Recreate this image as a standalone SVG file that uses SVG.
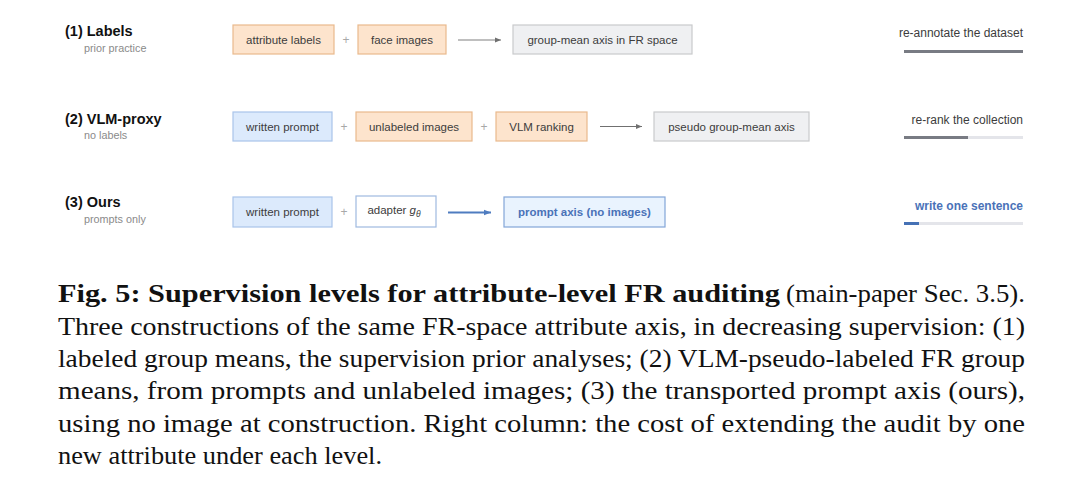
<svg xmlns="http://www.w3.org/2000/svg" width="1069" height="487" viewBox="0 0 1069 487">
<defs>
<style>
.lbl{font-family:"Liberation Sans",Arial,sans-serif;font-size:14.5px;font-weight:bold;fill:#111}
.sub{font-family:"Liberation Sans",Arial,sans-serif;font-size:10.8px;fill:#8a8a8a}
.bt{font-family:"Liberation Sans",Arial,sans-serif;font-size:11.5px;fill:#3c3c3c;text-anchor:middle}
.org{fill:#fde4cd;stroke:#e9b98d;stroke-width:1.2}
.blu{fill:#dceafc;stroke:#a9c4ea;stroke-width:1.2}
.gry{fill:#eff0f2;stroke:#c9cacc;stroke-width:1.2}
.wht{fill:#ffffff;stroke:#9fb9df;stroke-width:1.2}
.out{fill:#e9f3fe;stroke:#83a6d8;stroke-width:1.2}
.plus{font-family:"Liberation Sans",Arial,sans-serif;font-size:12px;fill:#a8a8a8;text-anchor:middle}
.rt{font-family:"Liberation Sans",Arial,sans-serif;font-size:12px;fill:#3c3c3c;text-anchor:end}
.cap{font-family:"Liberation Serif","Times New Roman",serif;font-size:25px;fill:#111}
</style>
<marker id="ag" viewBox="0 0 10 10" refX="10" refY="5" markerWidth="6" markerHeight="6" markerUnits="userSpaceOnUse" orient="auto"><path d="M0,1 L10,5 L0,9 z" fill="#707070"/></marker>
<marker id="ab" viewBox="0 0 10 10" refX="10" refY="5" markerWidth="7" markerHeight="7" markerUnits="userSpaceOnUse" orient="auto"><path d="M0,1 L10,5 L0,9 z" fill="#4f7cc0"/></marker>
</defs>
<rect width="1069" height="487" fill="#ffffff"/>

<g id="row1-label">
<text class="lbl" x="65" y="36">(1) Labels</text>
<text class="sub" x="84" y="52">prior practice</text>
</g>
<g id="row2-label">
<text class="lbl" x="65" y="124">(2) VLM-proxy</text>
<text class="sub" x="84" y="139">no labels</text>
</g>
<g id="row3-label">
<text class="lbl" x="65" y="207">(3) Ours</text>
<text class="sub" x="84" y="223">prompts only</text>
</g>

<g id="attribute-labels"><rect class="org" x="233" y="25" width="101" height="29"/><text class="bt" x="283.5" y="43.5">attribute labels</text></g>
<text class="plus" x="346" y="44">+</text>
<g id="face-images"><rect class="org" x="358" y="25" width="88" height="29"/><text class="bt" x="402" y="43.5">face images</text></g>
<g id="group-mean-axis"><rect class="gry" x="513" y="25" width="179" height="29"/><text class="bt" x="602.5" y="43.5">group-mean axis in FR space</text></g>

<g id="written-prompt-2"><rect class="blu" x="233" y="112" width="99" height="29"/><text class="bt" x="282.5" y="130.5">written prompt</text></g>
<text class="plus" x="344" y="131">+</text>
<g id="unlabeled-images"><rect class="org" x="356" y="112" width="116" height="29"/><text class="bt" x="414" y="130.5">unlabeled images</text></g>
<text class="plus" x="484" y="131">+</text>
<g id="vlm-ranking"><rect class="org" x="496" y="112" width="91" height="29"/><text class="bt" x="541.5" y="130.5">VLM ranking</text></g>
<g id="pseudo-axis"><rect class="gry" x="654" y="112" width="155" height="29"/><text class="bt" x="731.5" y="130.5">pseudo group-mean axis</text></g>

<g id="written-prompt-3"><rect class="blu" x="233" y="197" width="99" height="30"/><text class="bt" x="282.5" y="216">written prompt</text></g>
<text class="plus" x="344" y="216">+</text>
<g id="adapter"><rect class="wht" x="356" y="196" width="80" height="31"/><text class="bt" x="394" y="214">adapter <tspan font-style="italic">g</tspan><tspan font-style="italic" font-size="8.5px" dy="2.5">θ</tspan></text></g>
<g id="prompt-axis"><rect class="out" x="504" y="197" width="161" height="30"/><text class="bt" x="584.5" y="216" font-weight="bold" style="fill:#4a72b8">prompt axis (no images)</text></g>

<g id="connectors" fill="none">
<line x1="458" y1="40" x2="501" y2="40" stroke="#808080" stroke-width="1.2" marker-end="url(#ag)"/>
<line x1="600" y1="126.5" x2="642" y2="126.5" stroke="#707070" stroke-width="1.2" marker-end="url(#ag)"/>
<line x1="448" y1="212.5" x2="491" y2="212.5" stroke="#4f7cc0" stroke-width="1.8" marker-end="url(#ab)"/>
</g>

<g id="cost-1">
<text class="rt" x="1023" y="37">re-annotate the dataset</text>
<rect x="904" y="50" width="119" height="3" fill="#787b83"/>
</g>
<g id="cost-2">
<text class="rt" x="1023" y="124">re-rank the collection</text>
<rect x="904" y="136" width="119" height="3" fill="#e4e5ea"/>
<rect x="904" y="136" width="64" height="3" fill="#787b83"/>
</g>
<g id="cost-3">
<text class="rt" x="1023" y="210" font-weight="bold" style="fill:#4a72b8">write one sentence</text>
<rect x="904" y="222" width="119" height="3" fill="#e4e5ea"/>
<rect x="904" y="222" width="15" height="3" fill="#4571b5"/>
</g>

<g id="caption">
<text class="cap" x="58" y="302" font-weight="bold" textLength="722" lengthAdjust="spacingAndGlyphs">Fig. 5: Supervision levels for attribute-level FR auditing</text>
<text class="cap" x="786" y="302" textLength="239" lengthAdjust="spacingAndGlyphs">(main-paper Sec. 3.5).</text>
<text class="cap" x="58" y="335" textLength="967" lengthAdjust="spacingAndGlyphs">Three constructions of the same FR-space attribute axis, in decreasing supervision: (1)</text>
<text class="cap" x="58" y="367" textLength="967" lengthAdjust="spacingAndGlyphs">labeled group means, the supervision prior analyses; (2) VLM-pseudo-labeled FR group</text>
<text class="cap" x="58" y="399" textLength="967" lengthAdjust="spacingAndGlyphs">means, from prompts and unlabeled images; (3) the transported prompt axis (ours),</text>
<text class="cap" x="58" y="432" textLength="967" lengthAdjust="spacingAndGlyphs">using no image at construction. Right column: the cost of extending the audit by one</text>
<text class="cap" x="58" y="464" textLength="324" lengthAdjust="spacingAndGlyphs">new attribute under each level.</text>
</g>
</svg>
